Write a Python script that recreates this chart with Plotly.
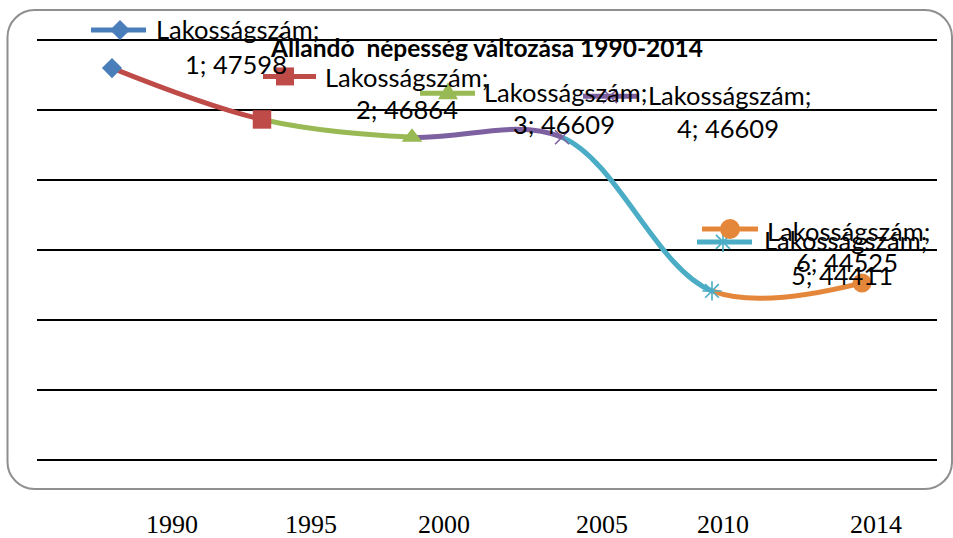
import plotly.graph_objects as go

# ---------------- data ----------------
years = ["1990", "1995", "2000", "2005", "2010", "2014"]
point_no = [1, 2, 3, 4, 5, 6]
population = [47598, 46864, 46609, 46609, 44411, 44525]
series_name = "Lakosságszám"
title_text = "Állandó\u00a0 népesség változása 1990-2014"
grid_values = [42000, 43000, 44000, 45000, 46000, 47000, 48000]

# ---------------- style / layout ----------------
colors = ["#4A7EBB", "#BE4B48", "#98B954", "#7D60A0", "#4BACC6", "#E5873A"]
symbols = ["diamond", "square", "triangle-up", "x-thin", "asterisk", "circle"]
msizes = [15.5, 18.5, 18, 14, 16, 19]
mline_w = [0, 0, 0, 1.6, 1.6, 0]

W, H = 953, 538
PL, PR, PT, PB = 37, 937, 2, 465          # plot area in pixels
GRID_TOP_PX, GRID_BOT_PX = 40, 459.5       # pixel rows of 48000 and 42000
ppu = (GRID_BOT_PX - GRID_TOP_PX) / (grid_values[-1] - grid_values[0])
y_hi = grid_values[-1] + (GRID_TOP_PX - PT) / ppu
y_lo = grid_values[0] - (PB - GRID_BOT_PX) / ppu
n = len(years)
x_range = [-0.5, n - 0.5]
cat_px = (PR - PL) / n

tick_px = [172, 311, 444, 602, 723, 876]   # where the year labels sit
tick_pos = [(p - PL) / cat_px - 0.5 for p in tick_px]

# label offsets (dx right, dy up) relative to each point, pixels
label1_off = [(125, 39), (144, 42), (153, 45), (167, 42), (133, 51), (-14, 52)]
label2_off = [(124, 4), (145, 10), (152, 13), (166, 9), (130, 16), (-15, 21)]
# key: line x0, x1, marker dx, dy
key_off = [(-21, 34, 8, 38), (1, 54, 23, 43), (8, 63, 36, 44),
           (21, 76, 48, 41), (-15, 40, 11, 49), (-160, -104, -132, 54)]

LABEL_FONT = dict(family="Lato, Liberation Sans, sans-serif", size=25.5, color="black")

fig = go.Figure()

# invisible trace anchoring the main subplot (grid + year labels)
fig.add_trace(go.Scatter(x=list(range(n)), y=population, mode="markers",
                         marker=dict(opacity=0), hoverinfo="skip",
                         showlegend=False, xaxis="x", yaxis="y"))

# line segments, each clipped to its own subplot span
layout_axes = {}
for i in range(n - 1):
    lo, hi = max(0, i - 1), min(n - 1, i + 2)
    ax_id = i + 2
    fig.add_trace(go.Scatter(
        x=list(range(lo, hi + 1)), y=population[lo:hi + 1],
        mode="lines", line=dict(color=colors[i + 1], width=5, shape="spline", smoothing=1),
        hoverinfo="skip", showlegend=False, xaxis=f"x{ax_id}", yaxis="y2"))
    layout_axes[f"xaxis{ax_id}"] = dict(
        domain=[(i + 0.5) / n, (i + 1.5) / n], range=[i, i + 1],
        visible=False, anchor="y2", fixedrange=True)

# markers on top
fig.add_trace(go.Scatter(
    x=list(range(n)), y=population, mode="markers",
    marker=dict(symbol=symbols, size=msizes, color=colors, opacity=1,
                line=dict(color=colors, width=mline_w)),
    opacity=1, cliponaxis=False, showlegend=False, xaxis="x7", yaxis="y2"))
layout_axes["xaxis7"] = dict(domain=[0, 1], range=x_range, visible=False,
                             anchor="y2", fixedrange=True)

# ----- annotations (data labels) -----
annotations = []
for i in range(n):
    for txt, (dx, dy) in ((f"{series_name};", label1_off[i]),
                          (f"{point_no[i]}; {population[i]}", label2_off[i])):
        annotations.append(dict(x=i, y=population[i], xref="x", yref="y",
                                xshift=dx, yshift=dy, text=txt, showarrow=False,
                                xanchor="center", yanchor="middle", font=LABEL_FONT))

# ----- legend keys beside labels -----
shapes = []


def key_marker(i, cx, cy):
    c = colors[i]
    base = dict(xref="x", yref="y", xsizemode="pixel", ysizemode="pixel",
                xanchor=i, yanchor=population[i], layer="above")
    s = symbols[i]
    if s == "diamond":
        r = 10
        return [dict(base, type="path",
                     path=f"M{cx},{cy + r} L{cx + r},{cy} L{cx},{cy - r} L{cx - r},{cy} Z",
                     fillcolor=c, line=dict(width=0))]
    if s == "square":
        r = 9
        return [dict(base, type="rect", x0=cx - r, x1=cx + r, y0=cy - r, y1=cy + r,
                     fillcolor=c, line=dict(width=0))]
    if s == "triangle-up":
        return [dict(base, type="path",
                     path=f"M{cx},{cy + 11} L{cx + 10},{cy - 6} L{cx - 10},{cy - 6} Z",
                     fillcolor=c, line=dict(width=0))]
    if s == "x-thin":
        r = 7
        return [dict(base, type="path",
                     path=f"M{cx - r},{cy - r} L{cx + r},{cy + r} M{cx - r},{cy + r} L{cx + r},{cy - r}",
                     line=dict(color=c, width=1.6))]
    if s == "asterisk":
        return [dict(base, type="path",
                     path=(f"M{cx},{cy - 10} L{cx},{cy + 10} M{cx - 7},{cy - 7} L{cx + 7},{cy + 7} "
                           f"M{cx - 7},{cy + 7} L{cx + 7},{cy - 7}"),
                     line=dict(color=c, width=1.6))]
    r = 10
    return [dict(base, type="circle", x0=cx - r, x1=cx + r, y0=cy - r, y1=cy + r,
                 fillcolor=c, line=dict(width=0))]


for i in range(n):
    x0, x1, mdx, dy = key_off[i]
    shapes.append(dict(type="line", xref="x", yref="y", xsizemode="pixel", ysizemode="pixel",
                       xanchor=i, yanchor=population[i], x0=x0, x1=x1, y0=dy, y1=dy,
                       line=dict(color=colors[i], width=5), layer="above"))
    shapes.extend(key_marker(i, mdx, dy))

# ----- rounded chart-area border (paper coords from pixels) -----
pw, ph = PR - PL, PB - PT


def P(px, py):
    return f"{(px - PL) / pw:.5f},{(PB - py) / ph:.5f}"


bx0, by0, bx1, by1, rad = 7.5, 10, 952, 489, 27
k = 0.45
box_path = (
    f"M{P(bx0 + rad, by0)} L{P(bx1 - rad, by0)} "
    f"C{P(bx1 - rad * k, by0)} {P(bx1, by0 + rad * k)} {P(bx1, by0 + rad)} "
    f"L{P(bx1, by1 - rad)} "
    f"C{P(bx1, by1 - rad * k)} {P(bx1 - rad * k, by1)} {P(bx1 - rad, by1)} "
    f"L{P(bx0 + rad, by1)} "
    f"C{P(bx0 + rad * k, by1)} {P(bx0, by1 - rad * k)} {P(bx0, by1 - rad)} "
    f"L{P(bx0, by0 + rad)} "
    f"C{P(bx0, by0 + rad * k)} {P(bx0 + rad * k, by0)} {P(bx0 + rad, by0)} Z"
)
shapes.append(dict(type="path", xref="paper", yref="paper", path=box_path,
                   line=dict(color="#8F8F8F", width=2), layer="below"))

fig.update_layout(
    width=W, height=H,
    margin=dict(l=PL, r=W - PR, t=PT, b=H - PB, pad=0),
    paper_bgcolor="white", plot_bgcolor="rgba(0,0,0,0)",
    showlegend=False,
    title=dict(text=f"<b>{title_text}</b>", x=0.5, xref="paper", xanchor="center",
               y=1 - 48 / H, yref="container", yanchor="middle",
               font=dict(family="Lato, Liberation Sans, sans-serif", size=24.5, color="black")),
    xaxis=dict(range=x_range, tickmode="array", tickvals=tick_pos, ticktext=years,
               showgrid=False, zeroline=False, showline=False, ticks="",
               ticklabelstandoff=41, automargin=False, fixedrange=True,
               tickfont=dict(family="Liberation Serif, Times New Roman, serif", size=26,
                             color="black"),
               anchor="y"),
    yaxis=dict(range=[y_lo, y_hi], tickmode="array", tickvals=grid_values,
               showticklabels=False, showgrid=True, gridcolor="black", gridwidth=2,
               zeroline=False, showline=False, ticks="", automargin=False,
               fixedrange=True, anchor="x"),
    yaxis2=dict(range=[y_lo, y_hi], domain=[0, 1], visible=False, anchor="x2",
                fixedrange=True),
    annotations=annotations,
    shapes=shapes,
    **layout_axes,
)

fig.write_html("out.html", config={"displayModeBar": False},
               post_script="document.body.style.margin='0';")
